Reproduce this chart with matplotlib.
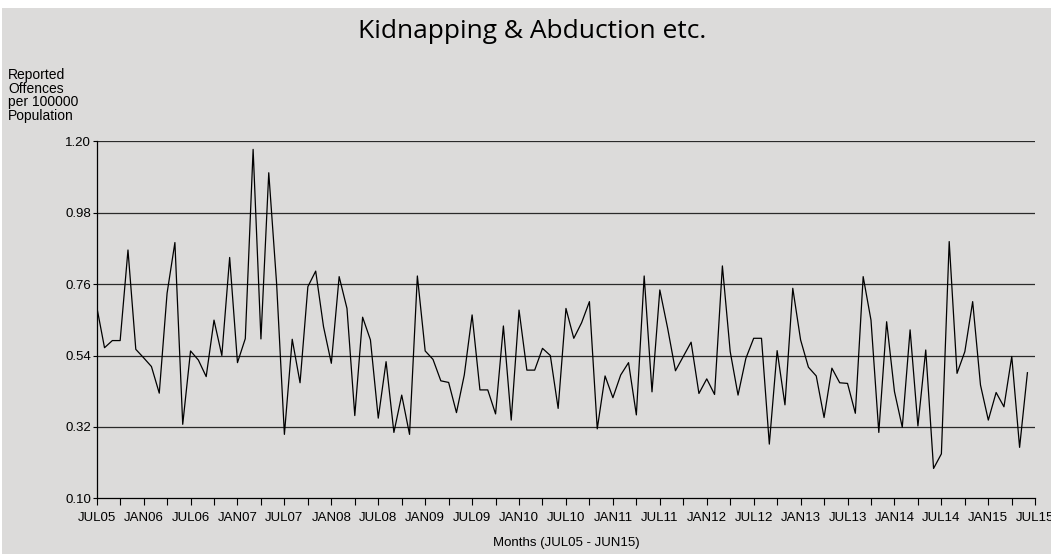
import numpy as np
import matplotlib.pyplot as plt
from matplotlib.patches import Rectangle

plt.rcParams['font.family'] = ['Liberation Sans', 'DejaVu Sans']

# monthly values JUL05 .. JUN15 (120 months)
rates = [
    0.691, 0.564, 0.586, 0.586, 0.865, 0.559, 0.533, 0.506, 0.424, 0.732,
    0.888, 0.328, 0.554, 0.526, 0.475, 0.649, 0.540, 0.842, 0.518, 0.592,
    1.175, 0.591, 1.103, 0.763, 0.297, 0.590, 0.456, 0.752, 0.800, 0.629,
    0.516, 0.783, 0.685, 0.355, 0.658, 0.588, 0.347, 0.521, 0.303, 0.418,
    0.297, 0.785, 0.554, 0.528, 0.462, 0.457, 0.364, 0.480, 0.665, 0.434,
    0.434, 0.360, 0.631, 0.341, 0.680, 0.495, 0.495, 0.562, 0.540, 0.377,
    0.685, 0.593, 0.641, 0.706, 0.314, 0.477, 0.410, 0.480, 0.518, 0.357,
    0.785, 0.428, 0.742, 0.624, 0.493, 0.537, 0.581, 0.423, 0.468, 0.420,
    0.816, 0.552, 0.418, 0.531, 0.593, 0.593, 0.267, 0.555, 0.388, 0.747,
    0.588, 0.504, 0.477, 0.349, 0.501, 0.456, 0.454, 0.362, 0.783, 0.649,
    0.303, 0.644, 0.429, 0.319, 0.619, 0.323, 0.557, 0.192, 0.237, 0.891,
    0.485, 0.552, 0.706, 0.449, 0.341, 0.426, 0.382, 0.537, 0.257, 0.487,
]
tick_labels = ['JUL05', 'JAN06', 'JUL06', 'JAN07', 'JUL07', 'JAN08', 'JUL08',
               'JAN09', 'JUL09', 'JAN10', 'JUL10', 'JAN11', 'JUL11', 'JAN12',
               'JUL12', 'JAN13', 'JUL13', 'JAN14', 'JUL14', 'JAN15', 'JUL15']
y_ticks = [0.10, 0.32, 0.54, 0.76, 0.98, 1.20]

bg = '#dcdbda'
fig = plt.figure(figsize=(10.51, 5.54), dpi=100, facecolor='white')
fig.patches.append(Rectangle((2 / 1051, 0), 1, 1 - 8 / 554, transform=fig.transFigure,
                             facecolor=bg, edgecolor='none', zorder=-10))

ax = fig.add_axes([0.092, 0.1005, 0.893, 0.6445])
ax.set_facecolor(bg)

months = np.arange(len(rates))
ax.plot(months, rates, color='black', lw=0.9)

ax.set_xlim(0, 120)
ax.set_ylim(0.10, 1.20)
ax.set_xticks(np.arange(0, 121, 6))
ax.set_xticklabels(tick_labels, fontsize=9.5)
ax.set_xticks(np.arange(3, 121, 6), minor=True)
ax.tick_params(axis='x', which='both', direction='out', length=5, width=0.8, pad=5)
ax.set_yticks(y_ticks)
ax.set_yticklabels(['%.2f' % v for v in y_ticks], fontsize=9.5)
ax.tick_params(axis='y', direction='out', length=3, width=0.8, pad=1)

for v in y_ticks[1:]:
    ax.axhline(v, color='#2a2a2a', lw=0.9, zorder=0)

for s in ['top', 'right']:
    ax.spines[s].set_visible(False)
for s in ['left', 'bottom']:
    ax.spines[s].set_linewidth(0.9)

ax.set_xlabel('Months (JUL05 - JUN15)', fontsize=9.5, labelpad=9)

fig.text(532 / 1051, 1 - 32 / 554, 'Kidnapping & Abduction etc.', fontsize=19,
         ha='center', va='center', family=['Open Sans', 'DejaVu Sans'])
fig.text(8 / 1051, 1 - 68 / 554, 'Reported\nOffences\nper 100000\nPopulation',
         fontsize=10, ha='left', va='top', linespacing=0.96)

fig.savefig('out.png', dpi=100, facecolor='white')
